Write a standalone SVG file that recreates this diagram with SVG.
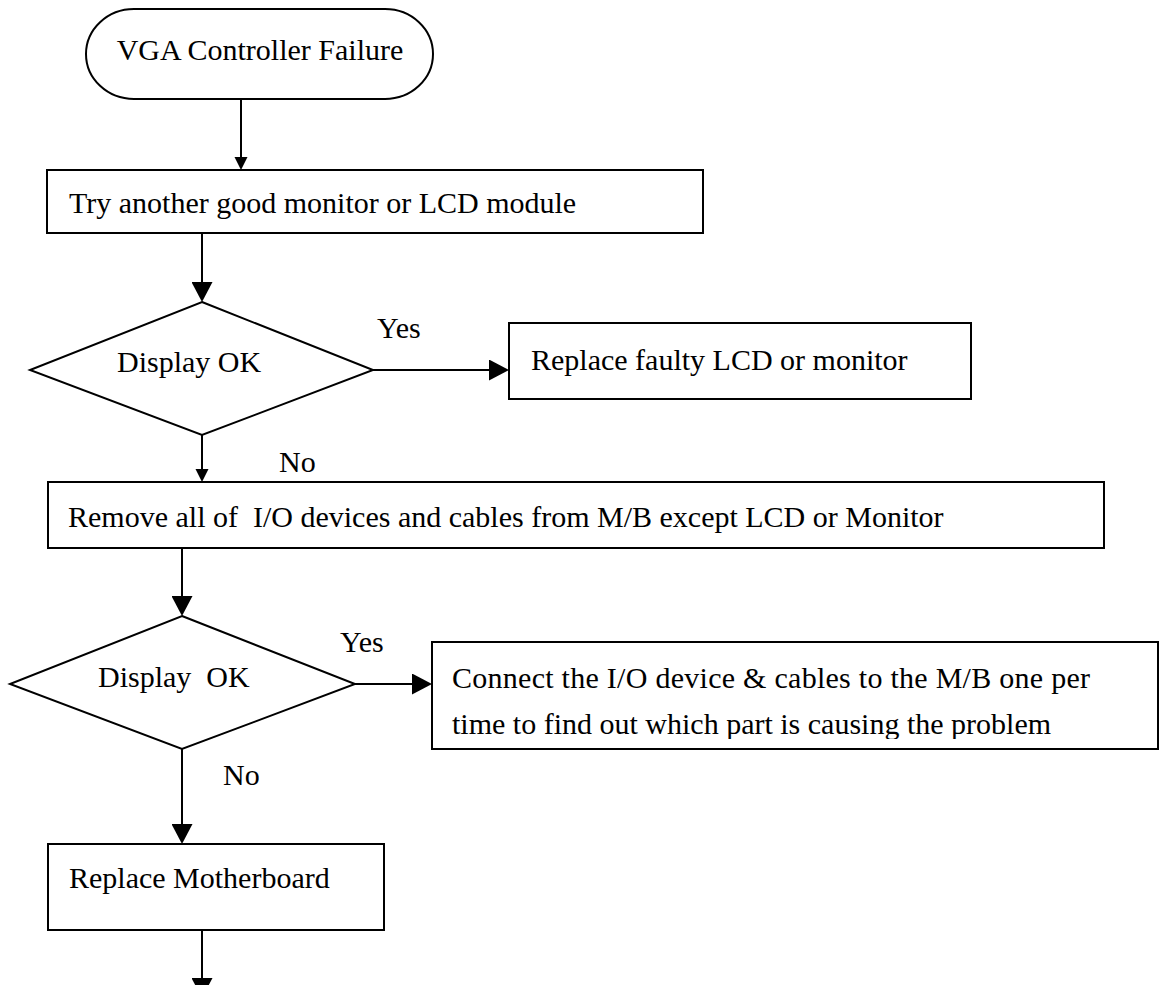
<svg xmlns="http://www.w3.org/2000/svg" width="1159" height="985" viewBox="0 0 1159 985">
<style>
.shape{fill:#fff;stroke:#000;stroke-width:2}
.conn{fill:none;stroke:#000;stroke-width:2}
.t{font-family:"Liberation Serif","Times New Roman",serif;font-size:30px;fill:#000;white-space:pre}
</style>
<defs>
<marker id="big" markerUnits="userSpaceOnUse" markerWidth="21" markerHeight="21" refX="2" refY="10.5" orient="auto">
<path d="M0,0 L20,10.5 L0,21 Z" fill="#000"/>
</marker>
<marker id="small" markerUnits="userSpaceOnUse" markerWidth="14" markerHeight="14" refX="2" refY="6.5" orient="auto">
<path d="M0,0 L13,6.5 L0,13 Z" fill="#000"/>
</marker>
<clipPath id="clipConnect"><rect x="432" y="642" width="727" height="97"/></clipPath>
</defs>
<rect width="1159" height="985" fill="#fff"/>

<g id="connectors">
<path class="conn" d="M241,99 V159" marker-end="url(#small)"/>
<path class="conn" d="M202,233 V284" marker-end="url(#big)"/>
<path class="conn" d="M373,370 H491" marker-end="url(#big)"/>
<path class="conn" d="M202,435 V471" marker-end="url(#small)"/>
<path class="conn" d="M182,548 V598" marker-end="url(#big)"/>
<path class="conn" d="M355,684 H414" marker-end="url(#big)"/>
<path class="conn" d="M182,749 V826" marker-end="url(#big)"/>
<path class="conn" d="M202,930 V980" marker-end="url(#big)"/>
<text class="t" x="377" y="338">Yes</text>
<text class="t" x="279" y="472">No</text>
<text class="t" x="340" y="652">Yes</text>
<text class="t" x="223" y="785">No</text>
</g>

<g id="start">
<path class="shape" d="M134,9 H385 A48,45 0 0 1 385,99 H134 A48,45 0 0 1 134,9 Z"/>
<text class="t" x="260" y="60" text-anchor="middle">VGA Controller Failure</text>
</g>

<g id="tryMonitor">
<rect class="shape" x="47" y="170" width="656" height="63"/>
<text class="t" x="69" y="213">Try another good monitor or LCD module</text>
</g>

<g id="decision1">
<polygon class="shape" points="202,302 373,370 202,435 30,370"/>
<text class="t" x="117" y="372">Display OK</text>
</g>

<g id="replaceLcd">
<rect class="shape" x="509" y="323" width="462" height="76"/>
<text class="t" x="531" y="370">Replace faulty LCD or monitor</text>
</g>

<g id="removeDevices">
<rect class="shape" x="48" y="482" width="1056" height="66"/>
<text class="t" x="68" y="527">Remove all of  I/O devices and cables from M/B except LCD or Monitor</text>
</g>

<g id="decision2">
<polygon class="shape" points="182,616 355,684 182,749 10,684"/>
<text class="t" x="98" y="687">Display  OK</text>
</g>

<g id="connectDevices">
<rect class="shape" x="432" y="642" width="726" height="107"/>
<g clip-path="url(#clipConnect)">
<text class="t" x="452" y="688" textLength="638" lengthAdjust="spacing">Connect the I/O device &amp; cables to the M/B one per</text>
<text class="t" x="452" y="734">time to find out which part is causing the problem</text>
</g>
</g>

<g id="replaceMotherboard">
<rect class="shape" x="48" y="844" width="336" height="86"/>
<text class="t" x="69" y="888">Replace Motherboard</text>
</g>
</svg>
